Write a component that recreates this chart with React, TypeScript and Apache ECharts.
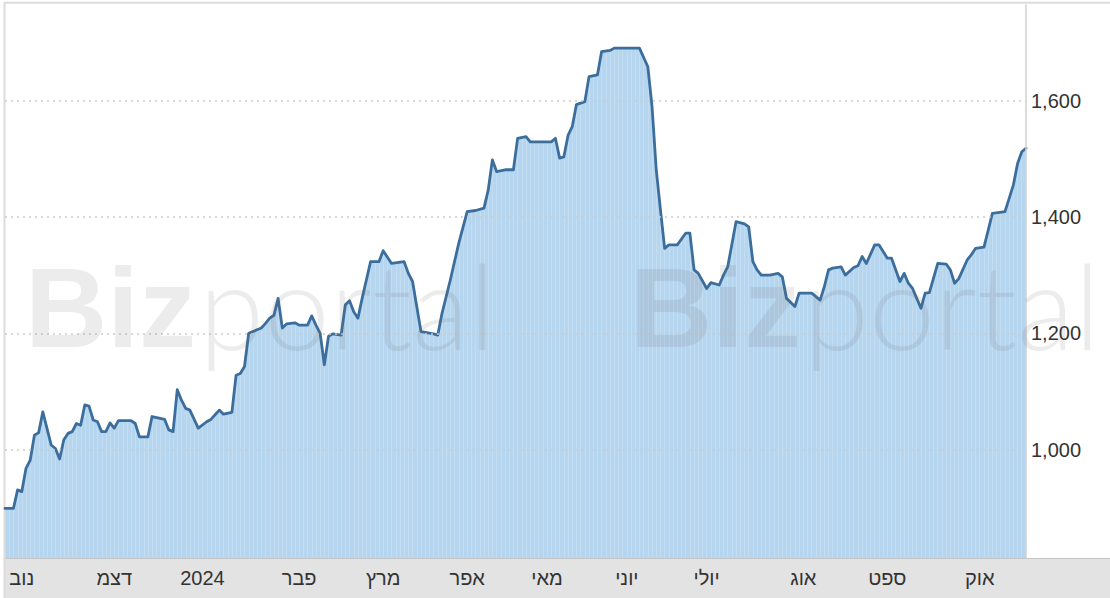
import React, { useEffect, useRef } from "react";
import * as echarts from "echarts";

// Trading-day calendar: month labels and number of trading days in each month shown
const monthLabels = ["", "נוב", "דצמ", "2024", "פבר", "מרץ", "אפר", "מאי", "יוני", "יולי", "אוג", "ספט", "אוק"];
const tradingDays = [4, 22, 21, 23, 20, 20, 19, 19, 19, 23, 20, 22, 12];

// Price line: trading-day index and value
const priceIdx = [
  0, 2, 3, 4, 5, 6, 7, 8, 9, 11, 12, 13, 14, 15, 16, 17, 18, 19, 20, 21, 22, 23, 24, 25, 26, 27, 30, 31, 32, 34,
  35, 38, 39, 40, 41, 42, 43, 44, 46, 48, 49, 50, 51, 52, 54, 55, 56, 57, 58, 60, 61, 62, 63, 64, 65, 66, 67, 69,
  70, 72, 73, 74, 75, 76, 77, 78, 80, 81, 82, 83, 84, 85, 87, 89, 90, 92, 95, 96, 97, 99, 102, 103, 104, 106, 108,
  110, 112, 114, 115, 116, 117, 119, 121, 122, 124, 125, 130, 131, 132, 133, 134, 135, 136, 138, 139, 141, 142,
  144, 145, 151, 153, 154, 155, 156, 157, 158, 160, 162, 163, 164, 165, 167, 168, 170, 171, 172, 174, 176, 177,
  178, 179, 180, 182, 184, 185, 186, 188, 189, 192, 194, 195, 196, 197, 199, 200, 202, 203, 204, 205, 207, 208,
  210, 211, 213, 214, 215, 216, 218, 219, 220, 222, 224, 225, 226, 227, 229, 230, 231, 233, 235, 238, 240, 241,
  242, 243,
];
const priceVal = [
  899, 899, 931, 928, 968, 982, 1025, 1029, 1065, 1008, 1002, 984, 1017, 1028, 1031, 1045, 1042, 1077, 1075, 1051,
  1048, 1031, 1031, 1046, 1037, 1050, 1050, 1045, 1022, 1022, 1057, 1052, 1034, 1031, 1103, 1085, 1071, 1068, 1037,
  1048, 1052, 1060, 1068, 1061, 1064, 1128, 1131, 1143, 1200, 1206, 1209, 1217, 1226, 1231, 1260, 1209, 1216, 1218,
  1214, 1214, 1230, 1214, 1200, 1146, 1195, 1199, 1197, 1249, 1256, 1237, 1226, 1260, 1323, 1323, 1342, 1320, 1323,
  1303, 1289, 1203, 1199, 1197, 1234, 1292, 1355, 1409, 1411, 1415, 1446, 1498, 1478, 1481, 1481, 1535, 1538, 1529,
  1529, 1535, 1501, 1503, 1540, 1555, 1593, 1598, 1641, 1644, 1684, 1686, 1690, 1690, 1658, 1589, 1481, 1412, 1346,
  1352, 1352, 1372, 1372, 1309, 1303, 1277, 1287, 1283, 1300, 1314, 1392, 1388, 1383, 1323, 1309, 1300, 1300, 1303,
  1297, 1260, 1246, 1269, 1269, 1257, 1280, 1309, 1312, 1314, 1300, 1313, 1316, 1332, 1320, 1352, 1352, 1329, 1329,
  1289, 1303, 1286, 1277, 1243, 1269, 1270, 1320, 1319, 1309, 1286, 1294, 1326, 1335, 1346, 1348, 1406, 1409, 1455,
  1492, 1512, 1518,
];

const yTicks = [1000, 1200, 1400, 1600];
const yMin = 813.9;
const yMax = 1764.1;

function makeStripes(): any {
  if (typeof document === "undefined") return "#b7d6ef";
  const c = document.createElement("canvas");
  c.width = 42;
  c.height = 8;
  const ctx = c.getContext("2d");
  if (!ctx) return "#b7d6ef";
  ctx.fillStyle = "#b6d5ee";
  ctx.fillRect(0, 0, 42, 8);
  ctx.fillStyle = "#c2dcf1";
  for (let k = 0; k < 10; k++) {
    const p = (5 + 4.2 * k) % 42;
    ctx.fillRect(Math.round(p), 0, 1, 8);
  }
  return { image: c, repeat: "repeat" };
}

export default function App() {
  const ref = useRef<HTMLDivElement>(null);

  useEffect(() => {
    document.body.style.margin = "0";
    if (!ref.current) return;
    const chart = echarts.init(ref.current, null, { renderer: "svg" });

    const categories: string[] = [];
    tradingDays.forEach((n, m) => {
      for (let k = 0; k < n; k++) categories.push(`${m}-${k}`);
    });
    const data = priceIdx.map((i, j) => [i, priceVal[j]]);

    const wmColor = "rgba(105,105,105,0.13)";
    const font = '"Liberation Sans", Arial, Helvetica, sans-serif';
    const lightFont = '300 118px Lato, Roboto, "Open Sans", sans-serif';

    chart.setOption({
      animation: false,
      backgroundColor: "#ffffff",
      grid: { left: 5, right: 84, top: 5, bottom: 40, containLabel: false },
      xAxis: {
        type: "category",
        data: categories,
        boundaryGap: false,
        z: 10,
        axisLine: { show: false },
        axisTick: { show: false },
        splitLine: { show: false },
        axisLabel: {
          interval: (i: number, v: string) => v.endsWith("-0") && !v.startsWith("0-"),
          formatter: (v: string) => {
            const [m, k] = v.split("-");
            return k === "0" ? monthLabels[Number(m)] : "";
          },
          color: "#333",
          fontSize: 20,
          fontFamily: font,
          margin: 10,
        },
      },
      yAxis: {
        type: "value",
        position: "right",
        min: yMin,
        max: yMax,
        z: 3,
        axisLine: { show: true, lineStyle: { color: "#d0d0d0", width: 1.5 } },
        axisTick: { show: false, customValues: yTicks },
        splitLine: { show: true, lineStyle: { color: "#cccccc", width: 1.5, type: [2, 4] } },
        axisLabel: {
          customValues: yTicks,
          color: "#333",
          fontSize: 20,
          fontFamily: font,
          margin: 5,
          formatter: (v: number) => v.toLocaleString("en-US"),
        },
      },
      series: [
        {
          type: "line",
          data,
          symbol: "none",
          z: 2,
          lineStyle: { color: "#3b6e9c", width: 2.8, join: "round", cap: "round" },
          areaStyle: { color: makeStripes(), opacity: 1 },
        },
      ],
      graphic: [
        {
          type: "rect",
          z: 0,
          silent: true,
          shape: { x: 4.5, y: 558, width: 1120, height: 50 },
          style: { fill: "#e3e3e3" },
        },
        {
          type: "line",
          z: 1,
          silent: true,
          shape: { x1: 4.5, y1: 558.5, x2: 1110, y2: 558.5 },
          style: { stroke: "#c4c4c4", lineWidth: 1.2 },
        },
        {
          type: "rect",
          z: 1,
          silent: true,
          shape: { x: 4.5, y: 2.7, width: 1200, height: 700 },
          style: { fill: "none", stroke: "#dcdcdc", lineWidth: 2 },
        },
        {
          type: "text",
          z: 50,
          silent: true,
          x: 25,
          y: 307,
          style: { text: "Biz", font: `bold 114px ${font}`, fill: wmColor, align: "left", verticalAlign: "middle" },
        },
        {
          type: "text",
          z: 50,
          silent: true,
          x: 199,
          y: 304,
          style: { text: "portal", font: lightFont, fill: wmColor, align: "left", verticalAlign: "middle" },
        },
        {
          type: "text",
          z: 50,
          silent: true,
          x: 630,
          y: 307,
          style: { text: "Biz", font: `bold 114px ${font}`, fill: wmColor, align: "left", verticalAlign: "middle" },
        },
        {
          type: "text",
          z: 50,
          silent: true,
          x: 804,
          y: 304,
          style: { text: "portal", font: lightFont, fill: wmColor, align: "left", verticalAlign: "middle" },
        },
      ],
    });

    return () => chart.dispose();
  }, []);

  return <div ref={ref} style={{ position: "absolute", left: 0, top: 0, width: 1110, height: 598 }} />;
}
